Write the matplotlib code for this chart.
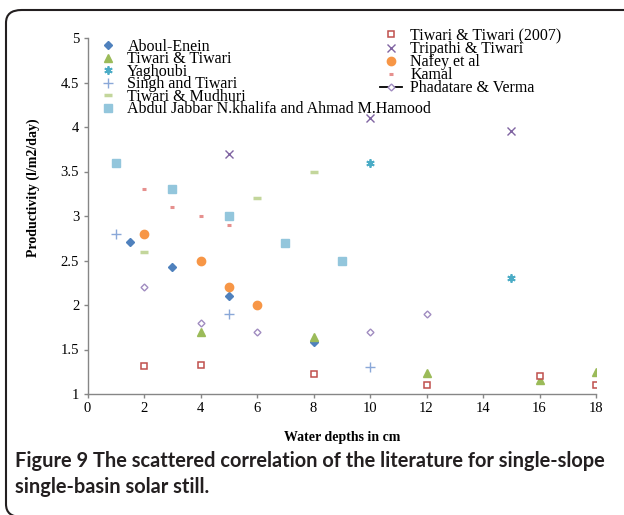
import matplotlib
matplotlib.use("Agg")
import matplotlib.pyplot as plt
from matplotlib.lines import Line2D
from matplotlib.patches import FancyBboxPatch

# ---------------- data ----------------
aboul_x = [1.5, 3, 5, 8]
aboul_y = [2.71, 2.43, 2.10, 1.58]

tt_x = [4, 8, 12, 16, 18]
tt_y = [1.70, 1.64, 1.24, 1.16, 1.25]

yag_x = [10, 15]
yag_y = [3.60, 2.30]

singh_x = [1, 5, 10]
singh_y = [2.80, 1.90, 1.30]

mud_x = [2, 6, 8]
mud_y = [2.60, 3.20, 3.50]

abdul_x = [1, 3, 5, 7, 9]
abdul_y = [3.60, 3.30, 3.00, 2.70, 2.50]

tt07_x = [2, 4, 8, 12, 16, 18]
tt07_y = [1.32, 1.33, 1.23, 1.10, 1.20, 1.10]

trip_x = [5, 10, 15]
trip_y = [3.70, 4.10, 3.95]

nafey_x = [2, 4, 5, 6]
nafey_y = [2.80, 2.50, 2.20, 2.00]

kamal_x = [2, 3, 4, 5]
kamal_y = [3.30, 3.10, 3.00, 2.90]

phad_x = [2, 4, 6, 10, 12]
phad_y = [2.20, 1.80, 1.70, 1.70, 1.90]

x_ticks = [0, 2, 4, 6, 8, 10, 12, 14, 16, 18]
y_ticks = [1, 1.5, 2, 2.5, 3, 3.5, 4, 4.5, 5]
y_tick_labels = ["1", "1.5", "2", "2.5", "3", "3.5", "4", "4.5", "5"]

serif = "Liberation Serif"

fig = plt.figure(figsize=(6.24, 5.15), dpi=100)
ax = fig.add_axes([87.5/624, 1-394/515, (596-87.5)/624, (394-38)/515])

ax.set_xlim(0, 18)
ax.set_ylim(1, 5)

s_aboul, = ax.plot(aboul_x, aboul_y, ls="none", marker="D", ms=4.2, color="#4f81bd", label="Aboul-Enein")
s_tt, = ax.plot(tt_x, tt_y, ls="none", marker="^", ms=5.5, color="#9bbb59", label="Tiwari & Tiwari")
s_yag, = ax.plot(yag_x, yag_y, ls="none", marker=(6, 2, 0), ms=6, mew=1.3, color="#4bacc6", label="Yaghoubi")
s_singh, = ax.plot(singh_x, singh_y, ls="none", marker="+", ms=7, mew=1.0, color="#8aa8d8", label="Singh and Tiwari")
s_mud, = ax.plot(mud_x, mud_y, ls="none", marker="_", ms=6, mew=2.5, color="#c3d69b", label="Tiwari & Mudhuri")
s_abdul, = ax.plot(abdul_x, abdul_y, ls="none", marker="s", ms=6, color="#93c6dc", label="Abdul Jabbar N.khalifa and Ahmad M.Hamood")

s_tt07, = ax.plot(tt07_x, tt07_y, ls="none", marker="s", ms=4.5, mfc="white", mec="#c0504d", mew=1.1, label="Tiwari & Tiwari (2007)")
s_trip, = ax.plot(trip_x, trip_y, ls="none", marker="x", ms=5.5, mew=1.0, color="#8064a2", label="Tripathi & Tiwari")
s_nafey, = ax.plot(nafey_x, nafey_y, ls="none", marker="o", ms=6, color="#f79646", label="Nafey et al")
s_kamal, = ax.plot(kamal_x, kamal_y, ls="none", marker="_", ms=3.5, mew=2.2, color="#e6908e", label="Kamal")
s_phad, = ax.plot(phad_x, phad_y, ls="none", marker="D", ms=3.5, mfc="white", mec="#a08cc0", mew=1.0, label="Phadatare & Verma")

for sp in ["top", "right"]:
    ax.spines[sp].set_visible(False)
for sp in ["left", "bottom"]:
    ax.spines[sp].set_color("#868686")
    ax.spines[sp].set_linewidth(1.0)

ax.set_xticks(x_ticks)
ax.set_yticks(y_ticks)
ax.set_yticklabels(y_tick_labels)
ax.tick_params(axis="both", direction="out", length=3, width=1.0, color="#868686",
               labelsize=10.5, pad=3)
for lab in ax.get_xticklabels() + ax.get_yticklabels():
    lab.set_fontfamily(serif)

ax.set_xlabel("Water depths in cm", fontfamily=serif, fontweight="bold", fontsize=10)
ax.xaxis.set_label_coords(0.5, -0.105)
ax.set_ylabel("Productivity (l/m2/day)", fontfamily=serif, fontweight="bold", fontsize=10)
ax.yaxis.set_label_coords(-0.093, 0.58)

leg_kw = dict(frameon=False, prop={"family": serif, "size": 11.5},
              handletextpad=0.5, borderaxespad=0, borderpad=0, handlelength=1.4)
leg1 = ax.legend(handles=[s_aboul, s_tt, s_yag, s_singh, s_mud, s_abdul],
                 loc="upper left", bbox_to_anchor=(97/624, 1-39/515),
                 bbox_transform=fig.transFigure, labelspacing=-0.22, **leg_kw)
ax.add_artist(leg1)

phad_handle = Line2D([], [], color="black", lw=1.3, marker="D", ms=3.5, mfc="white",
                     mec="#a08cc0", mew=1.0)
leg2 = ax.legend(handles=[s_tt07, s_trip, s_nafey, s_kamal, phad_handle],
                 labels=["Tiwari & Tiwari (2007)", "Tripathi & Tiwari", "Nafey et al", "Kamal", "Phadatare & Verma"],
                 loc="upper left", bbox_to_anchor=(380/624, 1-28/515),
                 bbox_transform=fig.transFigure, labelspacing=-0.18, **leg_kw)

# frame (bottom and right edges fall just outside the picture)
frame = FancyBboxPatch((6/624, -2/515), 1.2, (515 + 2 - 10)/515,
                       boxstyle="round,pad=0,rounding_size=0.025",
                       transform=fig.transFigure, fill=False, ec="#231f20", lw=1.5,
                       clip_on=False)
fig.patches.append(frame)

cap_kw = dict(fontfamily="Lato", fontweight="bold", fontsize=14.4, color="#231f20", va="baseline")
fig.text(15/624, 1-467/515, "Figure 9 The scattered correlation of the literature for single-slope", **cap_kw)
fig.text(15/624, 1-493/515, "single-basin solar still.", **cap_kw)

fig.savefig("out.png", dpi=100)
